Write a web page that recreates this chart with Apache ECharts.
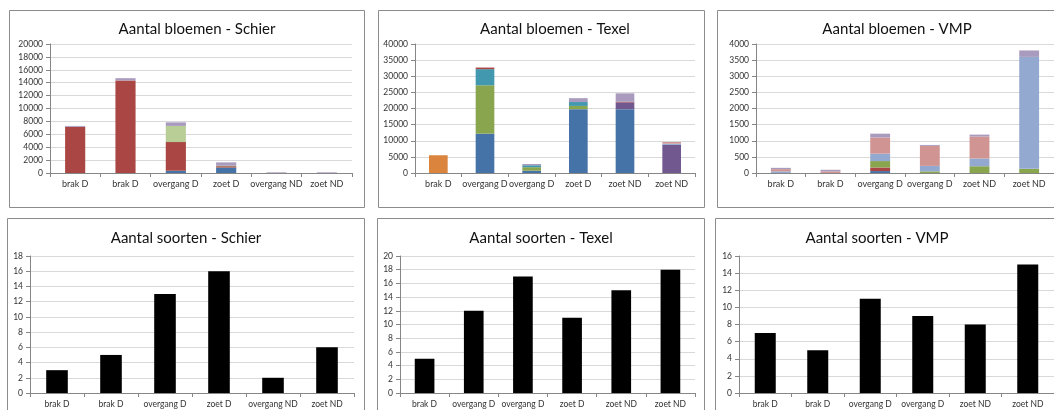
<!DOCTYPE html>
<html>
<head>
<meta charset="utf-8">
<script src="https://cdn.jsdelivr.net/npm/echarts@6/dist/echarts.min.js"></script>
<style>
  html, body { margin: 0; padding: 0; background: #fff; overflow: hidden; }
  #main { width: 1054px; height: 410px; }
</style>
</head>
<body>
<div id="main"></div>
<script>
// categories (same order as in the reference)
const catSchier = ['brak D', 'brak D', 'overgang D', 'zoet D', 'overgang ND', 'zoet ND']
const catTexel = ['brak D', 'overgang D', 'overgang D', 'zoet D', 'zoet ND', 'zoet ND']
const catVmp = ['brak D', 'brak D', 'overgang D', 'overgang D', 'zoet ND', 'zoet ND']

// Aantal bloemen - Schier (stacked, bottom to top)
const schierBlue = [0, 0, 350, 850, 0, 0]
const schierRed = [7150, 14350, 4450, 200, 0, 0]
const schierGreen = [0, 0, 100, 80, 0, 0]
const schierLightGreen = [0, 0, 2400, 0, 0, 0]
const schierLilac = [150, 350, 550, 520, 100, 100]

// Aantal bloemen - Texel
const texelBlue = [0, 12200, 700, 19800, 19800, 0]
const texelOrange = [5500, 0, 0, 0, 0, 0]
const texelGreen = [0, 15000, 1100, 1000, 0, 0]
const texelAqua = [0, 5000, 600, 1200, 0, 0]
const texelPurple = [0, 0, 0, 0, 2100, 8700]
const texelRed = [0, 350, 0, 0, 200, 0]
const texelLightBlue = [0, 0, 0, 0, 0, 400]
const texelPink = [0, 250, 0, 0, 0, 500]
const texelLilac = [0, 0, 400, 1200, 2600, 0]

// Aantal bloemen - VMP
const vmpBlue = [0, 0, 60, 0, 0, 0]
const vmpRed = [0, 0, 110, 0, 0, 0]
const vmpGreen = [0, 0, 200, 50, 210, 130]
const vmpLightBlue = [50, 0, 230, 170, 240, 3470]
const vmpPink = [70, 50, 500, 620, 680, 0]
const vmpLilac = [40, 50, 120, 30, 60, 200]

// Aantal soorten
const soortenSchier = [3, 5, 13, 16, 2, 6]
const soortenTexel = [5, 12, 17, 11, 15, 18]
const soortenVmp = [7, 5, 11, 9, 8, 15]

const C = {
  blue: '#4572A7', red: '#AA4643', green: '#89A54E', lightGreen: '#B9CD96',
  lilac: '#A99BBD', orange: '#DB843D', aqua: '#4198AF', purple: '#71588F',
  lightBlue: '#93A9CF', pink: '#D09493'
}
const FONT = 'Lato, "Open Sans", sans-serif'

const panels = [
  { title: 'Aantal bloemen - Schier', cx: 197, ty: 22, box: [9, 10, 355, 197],
    grid: { left: 50, top: 44, width: 302, height: 129 }, max: 20000, step: 2000, cats: catSchier,
    stacks: [[schierBlue, C.blue], [schierRed, C.red], [schierGreen, C.green],
             [schierLightGreen, C.lightGreen], [schierLilac, C.lilac]] },
  { title: 'Aantal bloemen - Texel', cx: 555, ty: 22, box: [378, 10, 326, 197],
    grid: { left: 415, top: 44, width: 280, height: 129 }, max: 40000, step: 5000, cats: catTexel,
    stacks: [[texelBlue, C.blue], [texelOrange, C.orange], [texelGreen, C.green], [texelAqua, C.aqua],
             [texelPurple, C.purple], [texelRed, C.red], [texelLightBlue, C.lightBlue],
             [texelPink, C.pink], [texelLilac, C.lilac]] },
  { title: 'Aantal bloemen - VMP', cx: 897, ty: 22, box: [717, 10, 345, 197],
    grid: { left: 756, top: 44, width: 301, height: 129 }, max: 4000, step: 500, cats: catVmp,
    stacks: [[vmpBlue, C.blue], [vmpRed, C.red], [vmpGreen, C.green], [vmpLightBlue, C.lightBlue],
             [vmpPink, C.pink], [vmpLilac, C.lilac]] },
  { title: 'Aantal soorten - Schier', cx: 186, ty: 231, box: [7, 218, 357, 210],
    grid: { left: 30, top: 256, width: 324, height: 137 }, max: 18, step: 2, cats: catSchier,
    stacks: [[soortenSchier, '#000']] },
  { title: 'Aantal soorten - Texel', cx: 541, ty: 231, box: [377, 218, 327, 210],
    grid: { left: 400, top: 256, width: 295, height: 137 }, max: 20, step: 2, cats: catTexel,
    stacks: [[soortenTexel, '#000']] },
  { title: 'Aantal soorten - VMP', cx: 877, ty: 231, box: [715, 218, 350, 210],
    grid: { left: 739, top: 256, width: 317, height: 137 }, max: 16, step: 2, cats: catVmp,
    stacks: [[soortenVmp, '#000']] }
]

const chart = echarts.init(document.getElementById('main'))

const option = {
  animation: false,
  textStyle: { fontFamily: FONT },
  title: panels.map(p => ({
    text: p.title, left: p.cx, top: p.ty, textAlign: 'center', padding: 0,
    textStyle: { fontFamily: FONT, fontSize: 15, fontWeight: 'normal', color: '#111' }
  })),
  graphic: panels.map(p => ({
    type: 'rect', silent: true, z: -10,
    shape: { x: p.box[0] + 0.5, y: p.box[1] + 0.5, width: p.box[2], height: p.box[3] },
    style: { fill: '#fff', stroke: '#8c8c8c', lineWidth: 1 }
  })),
  grid: panels.map(p => Object.assign({ containLabel: false }, p.grid)),
  xAxis: panels.map((p, i) => ({
    type: 'category', gridIndex: i, data: p.cats,
    axisLine: { lineStyle: { color: '#868686' } },
    axisTick: { show: true, length: 4, lineStyle: { color: '#868686' } },
    axisLabel: { color: '#333', fontSize: i < 3 ? 9 : 8.5, margin: 7, interval: 0 }
  })),
  yAxis: panels.map((p, i) => ({
    type: 'value', gridIndex: i, min: 0, max: p.max, interval: p.step,
    axisLine: { show: true, lineStyle: { color: '#868686' } },
    axisTick: { show: true, length: 4, lineStyle: { color: '#868686' } },
    axisLabel: { color: '#333', fontSize: 8.5, margin: 7, formatter: v => String(v) },
    splitLine: { lineStyle: { color: '#d9d9d9' } }
  })),
  series: []
}

panels.forEach((p, i) => {
  p.stacks.forEach(([data, color]) => {
    option.series.push({
      type: 'bar', xAxisIndex: i, yAxisIndex: i, stack: 'panel' + i,
      barWidth: '40%', data: data,
      itemStyle: { color: color }
    })
  })
})

chart.setOption(option)
</script>
</body>
</html>
